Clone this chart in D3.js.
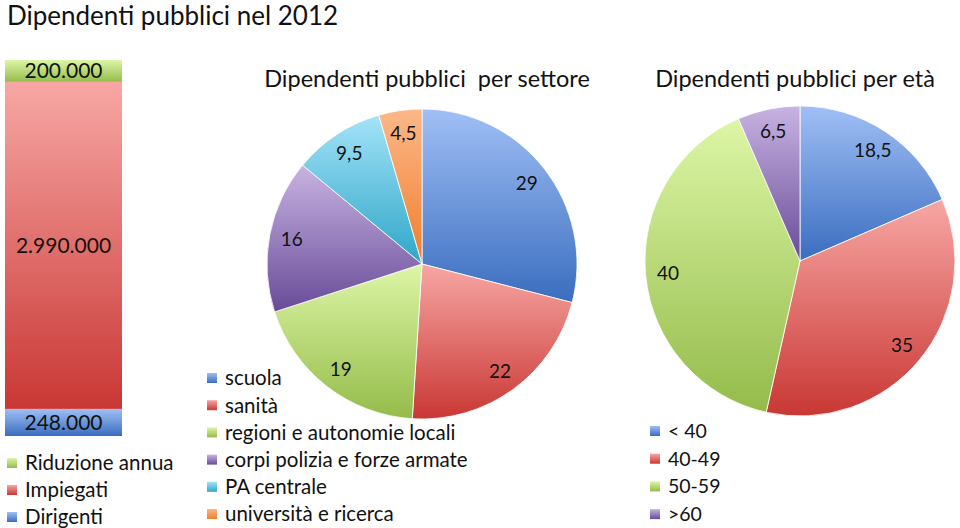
<!DOCTYPE html>
<html lang="it">
<head>
<meta charset="UTF-8">
<title>Dipendenti pubblici nel 2012</title>
<script src="https://cdn.jsdelivr.net/npm/d3@7"></script>
<style>
    body { margin: 0; background: #ffffff; }
    svg text { font-family: Lato, "Open Sans", sans-serif; fill: #111; white-space: pre; }
</style>
</head>
<body>
<div id="chart"></div>
<script>
    var WIDTH = 960;
    var HEIGHT = 528;

    // stacked bar: bottom to top
    var BAR_CATEGORIES = ["Dirigenti", "Impiegati", "Riduzione annua"];
    var BAR_VALUES = [248000, 2990000, 200000];
    var BAR_LABELS = ["248.000", "2.990.000", "200.000"];

    var SECTOR_CATEGORIES = ["scuola", "sanità", "regioni e autonomie locali",
        "corpi polizia e forze armate", "PA centrale", "università e ricerca"];
    var SECTOR_VALUES = [29, 22, 19, 16, 9.5, 4.5];

    var AGE_CATEGORIES = ["< 40", "40-49", "50-59", ">60"];
    var AGE_VALUES = [18.5, 35, 40, 6.5];

    // gradient colours, top -> bottom
    var GRADS = {
        blue:   ["#a0bff5", "#3a6dbf"],
        red:    ["#f7a7a4", "#c93734"],
        green:  ["#ddf6a6", "#94bb4a"],
        purple: ["#c8b3e2", "#684b98"],
        cyan:   ["#a3e3f8", "#2fa6c8"],
        orange: ["#fcb889", "#f07e2e"]
    };
    var BAR_COLORS = ["blue", "red", "green"];
    var SECTOR_COLORS = ["blue", "red", "green", "purple", "cyan", "orange"];
    var AGE_COLORS = ["blue", "red", "green", "purple"];

    var svg = d3.select("#chart").append("svg")
        .attr("width", WIDTH)
        .attr("height", HEIGHT);

    var defs = svg.append("defs");
    Object.keys(GRADS).forEach(function(k){
        var g = defs.append("linearGradient")
            .attr("id", "grad-" + k)
            .attr("x1", 0).attr("y1", 0).attr("x2", 0).attr("y2", 1);
        g.append("stop").attr("offset", "0%").attr("stop-color", GRADS[k][0]);
        g.append("stop").attr("offset", "100%").attr("stop-color", GRADS[k][1]);
    });

    svg.append("text")
        .attr("x", 7)
        .attr("y", 25)
        .style("font-size", "26px")
        .text("Dipendenti pubblici nel 2012");

    // ---- stacked bar ----
    var total = d3.sum(BAR_VALUES);
    var y = d3.scaleLinear().domain([0, total]).range([436, 60]);
    var barX = 5, barW = 117;
    var cum = 0;
    var stacked = BAR_VALUES.map(function(v, i){
        var d = {y0: cum, y1: cum + v, label: BAR_LABELS[i], color: BAR_COLORS[i]};
        cum += v;
        return d;
    });

    var bars = svg.append("g").attr("class", "bar");
    bars.selectAll("rect").data(stacked).enter().append("rect")
        .attr("x", barX)
        .attr("width", barW)
        .attr("y", function(d){ return y(d.y1); })
        .attr("height", function(d){ return y(d.y0) - y(d.y1); })
        .attr("fill", function(d){ return "url(#grad-" + d.color + ")"; });
    bars.selectAll("text").data(stacked).enter().append("text")
        .attr("x", barX + barW / 2)
        .attr("y", function(d){ return (y(d.y0) + y(d.y1)) / 2; })
        .attr("dy", "0.36em")
        .attr("text-anchor", "middle")
        .style("font-size", "21px")
        .text(function(d){ return d.label; });

    // ---- legend helper ----
    function legend(x, y0, step, names, colors, size){
        var g = svg.append("g").attr("transform", "translate(" + x + "," + y0 + ")");
        var items = g.selectAll("g").data(names).enter().append("g")
            .attr("transform", function(d, i){ return "translate(0," + (i * step) + ")"; });
        items.append("rect")
            .attr("x", 0).attr("y", -5)
            .attr("width", 10).attr("height", 10)
            .attr("fill", function(d, i){ return "url(#grad-" + colors[i] + ")"; });
        items.append("text")
            .attr("x", 18)
            .attr("dy", "0.36em")
            .style("font-size", size)
            .text(function(d){ return d; });
    }

    legend(7, 463, 27, BAR_CATEGORIES.slice().reverse(), BAR_COLORS.slice().reverse(), "20.5px");
    legend(207, 378, 27.2, SECTOR_CATEGORIES, SECTOR_COLORS, "20.5px");
    legend(650, 431, 27.7, AGE_CATEGORIES, AGE_COLORS, "19.5px");

    // ---- pies ----
    function pie(cx, cy, r, values, colors, title, titleX){
        var g = svg.append("g").attr("transform", "translate(" + cx + "," + cy + ")");
        var arcs = d3.pie().sort(null)(values);
        var arc = d3.arc().innerRadius(0).outerRadius(r);
        var labelArc = d3.arc().innerRadius(r * 0.855).outerRadius(r * 0.855);

        g.selectAll("path").data(arcs).enter().append("path")
            .attr("d", arc)
            .attr("fill", function(d, i){ return "url(#grad-" + colors[i] + ")"; })
            .attr("stroke", "#ffffff")
            .attr("stroke-width", 0.8);

        g.selectAll("text").data(arcs).enter().append("text")
            .attr("transform", function(d){ return "translate(" + labelArc.centroid(d) + ")"; })
            .attr("dy", "0.36em")
            .attr("text-anchor", "middle")
            .style("font-size", "19px")
            .text(function(d){ return String(d.data).replace(".", ","); });

        svg.append("text")
            .attr("x", titleX)
            .attr("y", 87)
            .attr("text-anchor", "middle")
            .style("font-size", "23.5px")
            .text(title);
    }

    pie(422, 264, 155, SECTOR_VALUES, SECTOR_COLORS, "Dipendenti pubblici  per settore", 427);
    pie(800, 261, 155, AGE_VALUES, AGE_COLORS, "Dipendenti pubblici per età", 795);
</script>
</body>
</html>
